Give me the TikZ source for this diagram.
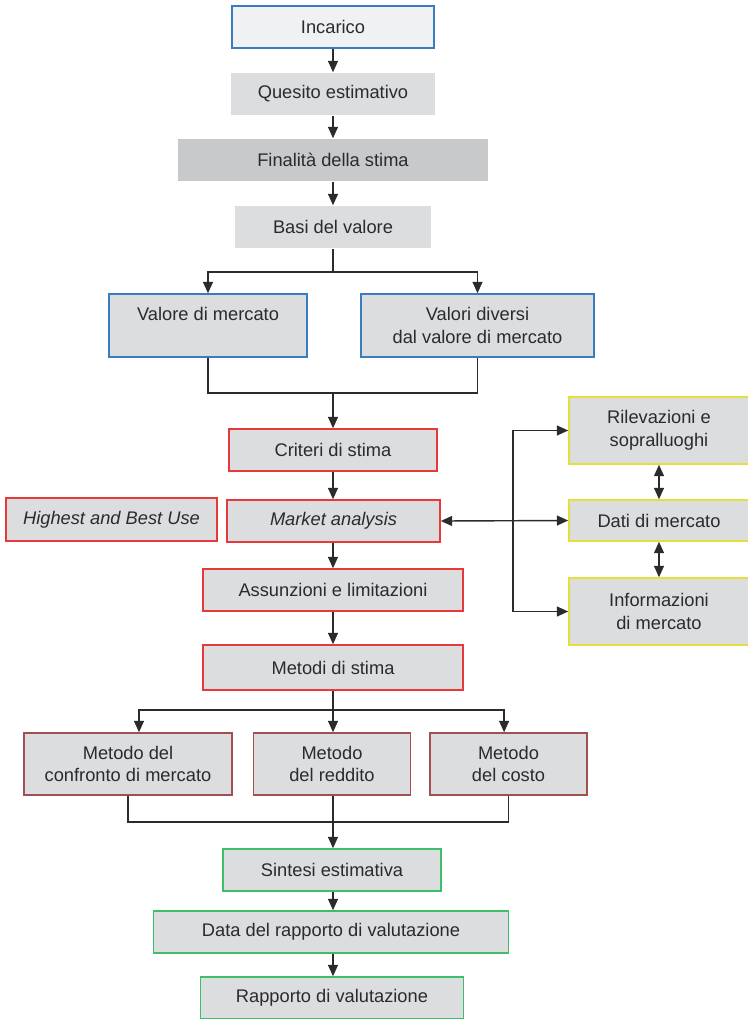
\documentclass[tikz,border=0pt]{standalone}
\usepackage{fontspec}
\setmainfont{Liberation Sans}
\usetikzlibrary{arrows.meta}

\definecolor{boxgray}{HTML}{DCDDDF}
\definecolor{palegray}{HTML}{F0F1F3}
\definecolor{darkgray}{HTML}{C8C9CB}
\definecolor{blueline}{HTML}{3A7CC0}
\definecolor{redline}{HTML}{E8393A}
\definecolor{brownline}{HTML}{A0504F}
\definecolor{greenline}{HTML}{3DBE6A}
\definecolor{yellowline}{HTML}{E6DF3A}
\definecolor{inkline}{HTML}{2B2B2B}

\tikzset{
    box/.style={fill=boxgray, line width=1.1pt, minimum height=1.05cm,
        inner sep=2pt, align=center, text=inkline,
        font=\fontsize{13}{16}\selectfont},
    bluebox/.style={box, draw=blueline},
    redbox/.style={box, draw=redline},
    brownbox/.style={box, draw=brownline},
    greenbox/.style={box, draw=greenline},
    yellowbox/.style={box, draw=yellowline},
    link/.style={draw=inkline, line width=1pt},
    arr/.style={link, -{Stealth[inset=0pt, length=8pt, width=7pt]}},
    dblarr/.style={link, {Stealth[inset=0pt, length=8pt, width=7pt]}-{Stealth[inset=0pt, length=8pt, width=7pt]}}
}

\begin{document}
\begin{tikzpicture}[x=0.025cm, y=-0.025cm]
        \useasboundingbox (0, 0) rectangle (748, 1019);

        % main column
        \node[bluebox, fill=palegray, minimum width=5.05cm] (incarico) at (333, 27) {Incarico};
        \node[box, minimum width=5.1cm] (quesito) at (333, 94) {Quesito estimativo};
        \node[box, fill=darkgray, minimum width=7.75cm] (finalita) at (333, 160) {Finalità della stima};
        \node[box, minimum width=4.875cm] (basi) at (333, 227) {Basi del valore};

        \node[bluebox, minimum width=4.95cm, minimum height=1.575cm] (mercato) at (208, 325.5) {Valore di mercato\\~};
        \node[bluebox, minimum width=5.825cm, minimum height=1.575cm] (diversi) at (477.5, 325.5) {Valori diversi\\dal valore di mercato};

        \node[redbox, minimum width=5.2cm] (criteri) at (333, 450) {Criteri di stima};
        \node[redbox, minimum width=5.275cm, minimum height=1.075cm] (hbu) at (111.5, 519.5) {\itshape Highest and Best Use};
        \node[redbox, minimum width=5.325cm] (market) at (333.5, 521) {\itshape Market analysis};
        \node[redbox, minimum width=6.5cm] (assunzioni) at (333, 590) {Assunzioni e limitazioni};
        \node[redbox, minimum width=6.5cm, minimum height=1.125cm] (metodi) at (333, 667.5) {Metodi di stima};

        \node[brownbox, minimum width=5.2cm, minimum height=1.55cm] (confronto) at (128, 764) {Metodo del\\confronto di mercato};
        \node[brownbox, minimum width=3.925cm, minimum height=1.55cm] (reddito) at (332, 764) {Metodo\\del reddito};
        \node[brownbox, minimum width=3.925cm, minimum height=1.55cm] (costo) at (508.5, 764) {Metodo\\del costo};

        \node[greenbox, minimum width=5.45cm] (sintesi) at (332, 870) {Sintesi estimativa};
        \node[greenbox, minimum width=8.875cm] (data) at (331, 932) {Data del rapporto di valutazione};
        \node[greenbox, minimum width=6.575cm] (rapporto) at (332, 998) {Rapporto di valutazione};

        % market data column
        \node[yellowbox, minimum width=4.5cm, minimum height=1.675cm] (rilevazioni) at (659, 430.5) {Rilevazioni e\\sopralluoghi};
        \node[yellowbox, minimum width=4.5cm, minimum height=1.025cm] (dati) at (659, 520.5) {Dati di mercato};
        \node[yellowbox, minimum width=4.5cm, minimum height=1.675cm] (informazioni) at (659, 611.5) {Informazioni\\di mercato};

        % connectors
        \draw[arr] (incarico) -- (quesito);
        \draw[arr] (quesito) -- (finalita);
        \draw[arr] (finalita) -- (basi);

        \coordinate (split1) at (333, 272);
        \draw[link] (basi.south) -- (split1);
        \draw[arr] (split1) -| (mercato.north);
        \draw[arr] (split1) -| (diversi.north);

        \coordinate (join1) at (333, 393);
        \draw[link] (mercato.south) |- (join1) -| (diversi.south);
        \draw[arr] (join1) -- (criteri.north);

        \draw[arr] (criteri) -- (market.north -| criteri);
        \draw[arr] (market.south -| assunzioni) -- (assunzioni);
        \draw[arr] (assunzioni) -- (metodi);

        \coordinate (split2) at (333, 710);
        \draw[link] (metodi.south) -- (split2);
        \draw[arr] (split2) -| ([xshift=0.275cm]confronto.north);
        \draw[arr] (split2) -- (split2 |- reddito.north);
        \draw[arr] (split2) -| ([xshift=-0.11cm]costo.north);

        \coordinate (join2) at (333, 822);
        \draw[link] (confronto.south) |- (join2) -| (costo.south);
        \draw[arr] (reddito.south -| join2) -- (sintesi.north -| join2);
        \draw[arr] (sintesi.south -| join2) -- (data.north -| join2);
        \draw[arr] (data.south -| join2) -- (rapporto.north -| join2);

        \coordinate (hub) at (513, 520);
        \draw[dblarr] (market.east) -- (dati.west);
        \draw[arr] (hub) |- (rilevazioni.west);
        \draw[arr] (hub) |- (informazioni.west);
        \draw[dblarr] (rilevazioni) -- (dati);
        \draw[dblarr] (dati) -- (informazioni);
\end{tikzpicture}
\end{document}
